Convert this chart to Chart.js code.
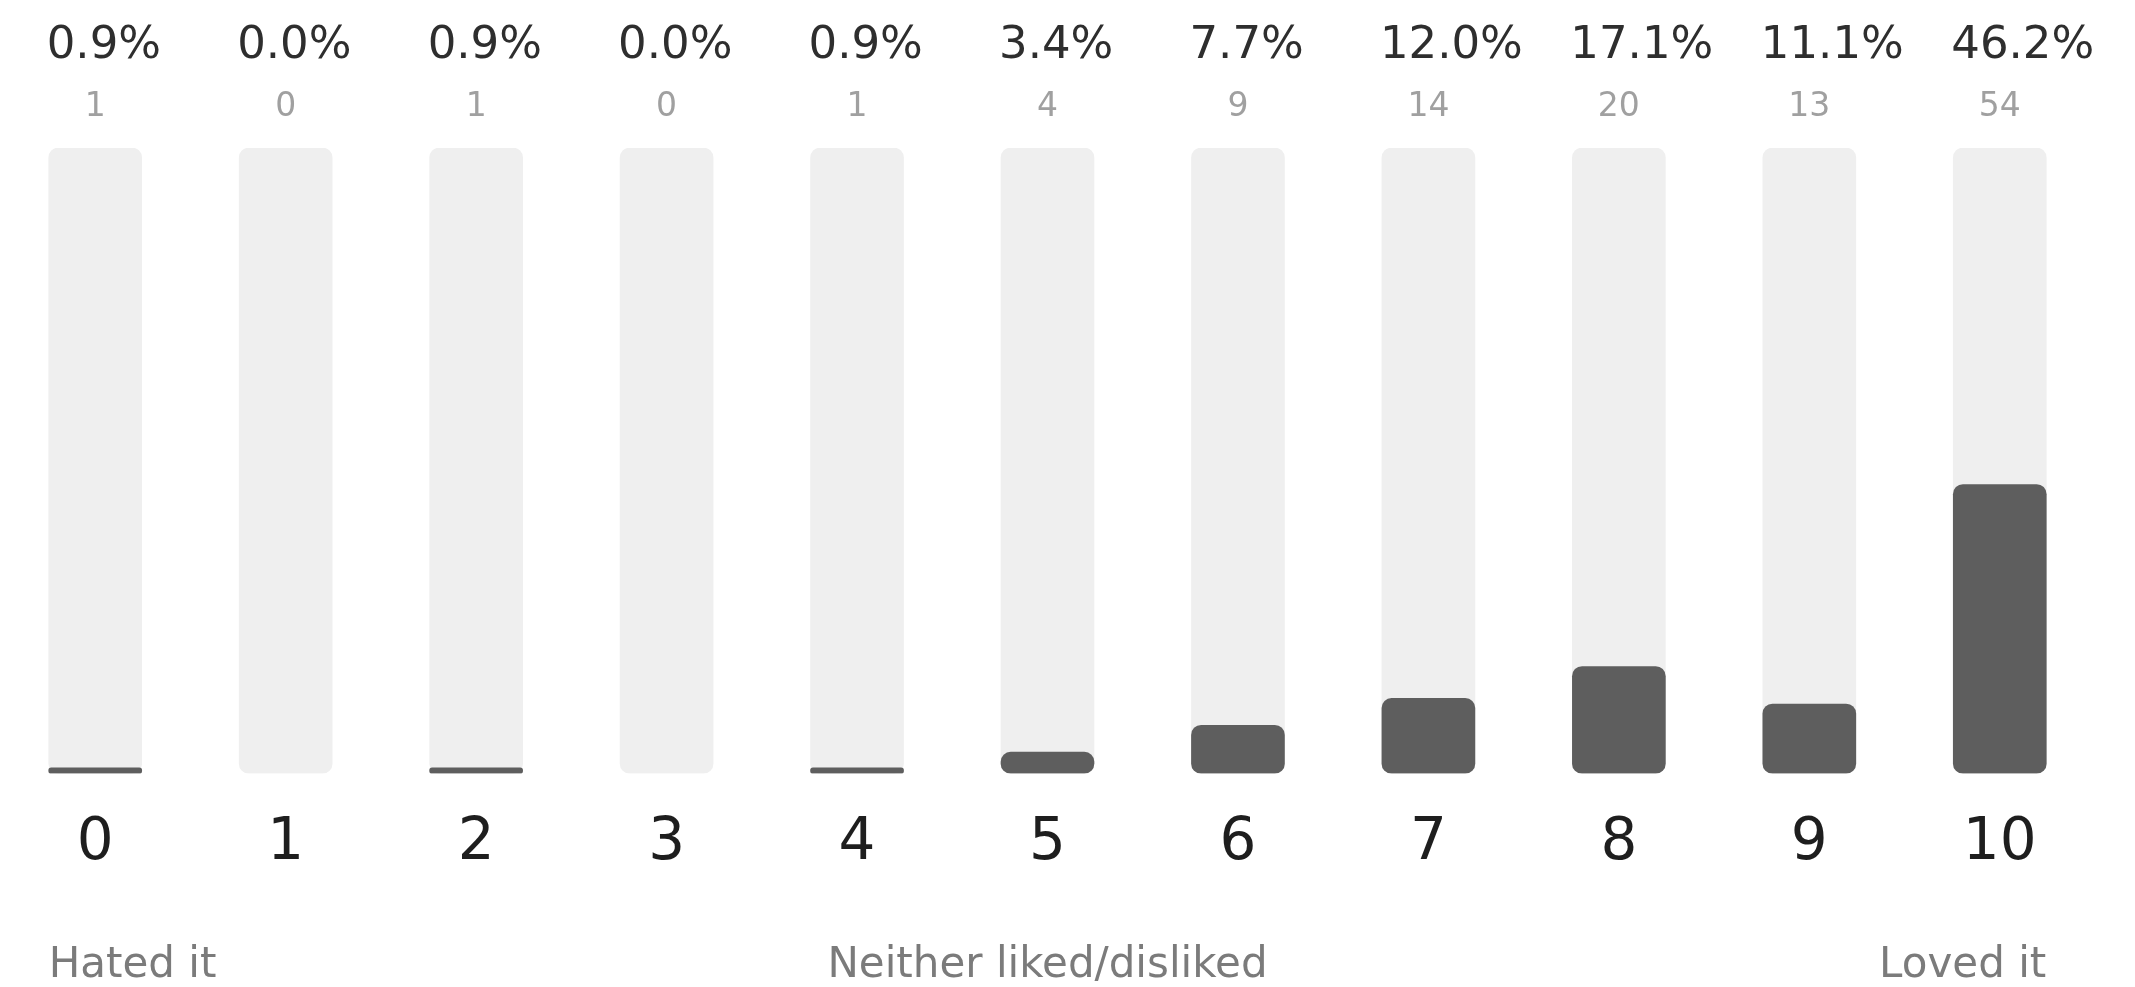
<!DOCTYPE html>
<html>
<head>
<meta charset="utf-8">
<script src="https://cdn.jsdelivr.net/npm/chart.js@4/dist/chart.umd.min.js"></script>
<style>
  body { margin: 0; background: #fff; }
</style>
</head>
<body>
<canvas id="scores" width="2135" height="987"></canvas>
<script>
'use strict';

var labels = ['0', '1', '2', '3', '4', '5', '6', '7', '8', '9', '10'];
var percents = [0.9, 0.0, 0.9, 0.0, 0.9, 3.4, 7.7, 12.0, 17.1, 11.1, 46.2];
var counts = [1, 0, 1, 0, 1, 4, 9, 14, 20, 13, 54];
var track = [100, 100, 100, 100, 100, 100, 100, 100, 100, 100, 100];
var scaleNames = ['Hated it', 'Neither liked/disliked', 'Loved it'];

var FONT = '"DejaVu Sans", sans-serif';
var BAR = 93;

// percent + count above each column, descriptive labels under the axis
var labelPlugin = {
  id: 'columnLabels',
  afterDraw: function(chart) {
    var c = chart.ctx;
    var x = chart.scales.x;
    c.save();
    c.textBaseline = 'alphabetic';
    for (var i = 0; i < labels.length; i++) {
      var px = x.getPixelForValue(i);
      c.textAlign = 'left';
      c.fillStyle = '#2e2e2e';
      c.font = '45px ' + FONT;
      c.fillText(percents[i].toFixed(1) + '%', px - BAR / 2 - 2, 58);
      c.textAlign = 'center';
      c.fillStyle = '#a0a0a0';
      c.font = '33px ' + FONT;
      c.fillText(String(counts[i]), px, 116);
    }

    c.fillStyle = '#7b7b7b';
    c.font = '42px ' + FONT;
    c.textBaseline = 'middle';
    c.textAlign = 'left';
    c.fillText(scaleNames[0], x.getPixelForValue(0) - BAR / 2, 966);
    c.textAlign = 'center';
    c.fillText(scaleNames[1], x.getPixelForValue(5), 966);
    c.textAlign = 'right';
    c.fillText(scaleNames[2], x.getPixelForValue(10) + BAR / 2, 966);
    c.restore();
  }
};

var chart = new Chart(document.getElementById('scores'), {
  type: 'bar',
  data: {
    labels: labels,
    datasets: [{
      label: 'Share',
      data: percents,
      backgroundColor: function(ctx) {
        return ctx.raw > 0 ? '#5e5e5e' : 'rgba(0,0,0,0)';
      },
      borderRadius: 10,
      borderSkipped: false,
      order: 0,
    }, {
      label: 'Track',
      data: track,
      backgroundColor: '#efefef',
      borderRadius: 10,
      borderSkipped: false,
      order: 1,
    }],
  },
  options: {
    responsive: false,
    animation: false,
    events: [],
    datasets: {
      bar: {
        grouped: false,
        barThickness: BAR,
      },
    },
    layout: {
      padding: { top: 148, left: 0, right: 40, bottom: 72 },
    },
    plugins: {
      legend: { display: false },
      tooltip: { enabled: false },
    },
    scales: {
      x: {
        grid: { display: false, drawTicks: false },
        border: { display: false },
        ticks: {
          color: '#1e1e1e',
          padding: 36,
          font: { family: FONT, size: 58 },
        },
      },
      y: {
        display: false,
        min: 0,
        max: 100,
      },
    },
  },
  plugins: [labelPlugin],
});
</script>
</body>
</html>
